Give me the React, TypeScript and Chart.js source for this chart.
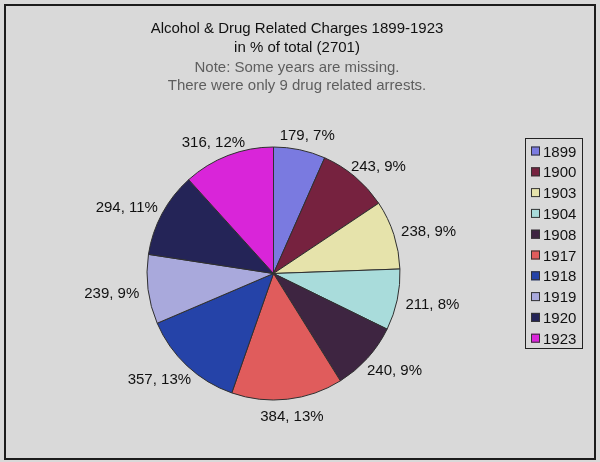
import React, { useEffect, useRef } from "react";
import { Chart, registerables } from "chart.js";

Chart.register(...registerables);

const years = ["1899", "1900", "1903", "1904", "1908", "1917", "1918", "1919", "1920", "1923"];
const charges = [179, 243, 238, 211, 240, 384, 357, 239, 294, 316];
const percentLabels = ["7%", "9%", "9%", "8%", "9%", "13%", "13%", "9%", "11%", "12%"];
const sliceColors = [
  "#7a7ae0",
  "#76223f",
  "#e6e3ab",
  "#a9dcdb",
  "#3e2541",
  "#e05c5c",
  "#2543a8",
  "#a9a9dc",
  "#242457",
  "#d925d9",
];
const titleLines = ["Alcohol & Drug Related Charges 1899-1923", "in % of total (2701)"];
const noteLines = ["Note: Some years are missing.", "There were only 9 drug related arrests."];

const FONT = "'Liberation Sans', Arial, sans-serif";

const decorPlugin = {
  id: "decor",
  beforeDraw(chart: any) {
    const ctx = chart.ctx;
    ctx.save();
    ctx.fillStyle = "#d9d9d9";
    ctx.fillRect(0, 0, chart.width, chart.height);
    ctx.strokeStyle = "#1c1c1c";
    ctx.lineWidth = 2;
    ctx.strokeRect(5, 5, 590, 454);
    ctx.textAlign = "center";
    ctx.textBaseline = "alphabetic";
    ctx.font = `15px ${FONT}`;
    ctx.fillStyle = "#111111";
    ctx.fillText(titleLines[0], 297, 33);
    ctx.fillText(titleLines[1], 297, 52);
    ctx.fillStyle = "#5e5e5e";
    ctx.fillText(noteLines[0], 297, 72);
    ctx.fillText(noteLines[1], 297, 90);
    ctx.restore();
  },
  afterDatasetsDraw(chart: any) {
    const ctx = chart.ctx;
    const meta = chart.getDatasetMeta(0);
    const values = chart.data.datasets[0].data as number[];
    ctx.save();
    ctx.font = `15px ${FONT}`;
    ctx.fillStyle = "#111111";
    ctx.textAlign = "center";
    ctx.textBaseline = "middle";
    meta.data.forEach((arc: any, i: number) => {
      const p = arc.getProps(["x", "y", "startAngle", "endAngle", "outerRadius"], true);
      const mid = (p.startAngle + p.endAngle) / 2;
      const text = `${values[i]}, ${percentLabels[i]}`;
      const w = ctx.measureText(text).width;
      const h = 14;
      const r = p.outerRadius + 9;
      const ax = p.x + Math.cos(mid) * r;
      const ay = p.y + Math.sin(mid) * r;
      const cx = ax + Math.cos(mid) * (w / 2);
      const cy = ay + Math.sin(mid) * (h / 2) + 2;
      ctx.fillText(text, cx, cy);
    });

    const lx = 525.5;
    const ly = 138.5;
    const lw = 57;
    const lh = 210;
    ctx.strokeStyle = "#222222";
    ctx.lineWidth = 1;
    ctx.strokeRect(lx, ly, lw, lh);
    ctx.textAlign = "left";
    ctx.textBaseline = "alphabetic";
    ctx.font = `15px ${FONT}`;
    const labels = chart.data.labels as string[];
    const colors = chart.data.datasets[0].backgroundColor as string[];
    labels.forEach((lab, i) => {
      const rowY = 151 + i * 20.8;
      ctx.fillStyle = colors[i];
      ctx.fillRect(531, rowY - 4.5, 9, 9);
      ctx.strokeStyle = "#333333";
      ctx.strokeRect(531.5, rowY - 4.5 + 0.5, 8, 8);
      ctx.fillStyle = "#111111";
      ctx.fillText(lab, 543, rowY + 5.5);
    });
    ctx.restore();
  },
};

export default function App() {
  const ref = useRef<HTMLCanvasElement | null>(null);
  useEffect(() => {
    document.body.style.margin = "0";
    const canvas = ref.current;
    if (!canvas) return;
    const chart = new Chart(canvas, {
      type: "pie",
      data: {
        labels: years,
        datasets: [
          {
            data: charges,
            backgroundColor: sliceColors,
            borderColor: "#303030",
            borderWidth: 1,
          },
        ],
      },
      options: {
        animation: false,
        responsive: false,
        maintainAspectRatio: false,
        radius: 126.5,
        layout: { padding: { left: 0, right: 53, top: 85, bottom: 0 } },
        plugins: {
          legend: { display: false },
          title: { display: false },
          tooltip: { enabled: false },
        },
      } as any,
      plugins: [decorPlugin],
    });
    return () => chart.destroy();
  }, []);
  return (
    <div style={{ width: 600, height: 462 }}>
      <canvas ref={ref} width={600} height={462} style={{ display: "block" }} />
    </div>
  );
}
